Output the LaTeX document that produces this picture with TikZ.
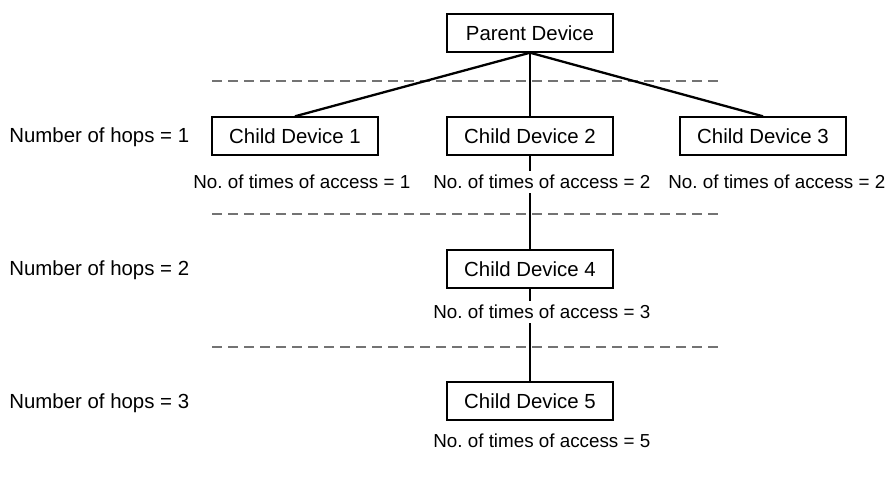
\documentclass[tikz,border=0pt]{standalone}
\usepackage{fontspec}
\setmainfont{Liberation Sans}
\usepackage{tikz}
\usetikzlibrary{positioning}
\frenchspacing

\begin{document}
\begin{tikzpicture}[
  x=0.5pt, y=-0.5pt,
  font=\fontsize{10.2}{12}\selectfont,
  dev/.style={draw, line width=0.7pt, minimum width=83pt, minimum height=19pt, inner sep=0pt},
  link/.style={line width=1.15pt},
  sep/.style={draw=black!55, line width=0.6pt, dash pattern=on 5pt off 3pt},
  acc/.style={anchor=west, fill=white, inner sep=2pt, font=\fontsize{9.4}{11}\selectfont},
  hops/.style={anchor=west, inner sep=0pt}
]
\useasboundingbox (0,0) rectangle (889,479);
% devices
\node[dev] (parent) at (530,33) {Parent Device};
\node[dev] (c1) at (295,136) {Child Device 1};
\node[dev] (c2) at (530,136) {Child Device 2};
\node[dev] (c3) at (763,136) {Child Device 3};
\node[dev] (c4) at (530,269) {Child Device 4};
\node[dev] (c5) at (530,401) {Child Device 5};
% hop separators
\draw[sep] (212,81) -- (722,81);
\draw[sep] (212,214) -- (722,214);
\draw[sep] (212,347) -- (722,347);
% links
\draw[link] (parent.south) -- (c1.north);
\draw[link] (parent.south) -- (c2.north);
\draw[link] (parent.south) -- (c3.north);
\draw[link] (c2.south) -- (c4.north);
\draw[link] (c4.south) -- (c5.north);
% access counts
\node[acc] (a1) at (189,182) {No. of times of access = 1};
\node[acc] (a2) at (429,182) {No. of times of access = 2};
\node[acc] (a3) at (664,182) {No. of times of access = 2};
\node[acc] (a4) at (429,312) {No. of times of access = 3};
\node[acc] (a5) at (429,441) {No. of times of access = 5};
% hop counts
\node[hops] (h1) at (9,137) {Number of hops = 1};
\node[hops] (h2) at (9,270) {Number of hops = 2};
\node[hops] (h3) at (9,403) {Number of hops = 3};
\end{tikzpicture}
\end{document}
